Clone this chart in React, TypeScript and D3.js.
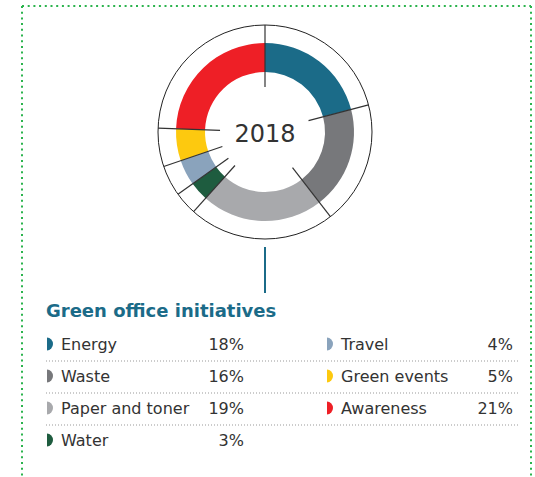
import * as d3 from "d3";

// data
const categories = ["Energy", "Waste", "Paper and toner", "Water", "Travel", "Green events", "Awareness"];
const shares = [18, 16, 19, 3, 4, 5, 21];
const colors = ["#1b6b88", "#77787b", "#a8a9ac", "#1e5c3f", "#8aa3bc", "#fdc90f", "#ee1f26"];
const leftItems = [0, 1, 2, 3];
const rightItems = [4, 5, 6];
const yearLabel = "2018";
const title = "Green office initiatives";

const W = 535;
const H = 477;
const cx = 265;
const cy = 132;

const App = () => {
  const pie = d3
    .pie<number>()
    .sort(null)
    .value((d) => d)
    .startAngle(0)
    .endAngle(2 * Math.PI);
  const arcs = pie(shares);
  const arc = d3.arc<d3.PieArcDatum<number>>().innerRadius(60).outerRadius(89);

  // radial separators at every slice boundary
  const rLine = d3.scaleLinear().domain([0, 1]).range([45, 107]);
  const pt = (a: number, r: number) => [cx + r * Math.sin(a), cy - r * Math.cos(a)];

  // legend rows
  const rowY = d3.scaleLinear().domain([0, 1]).range([350, 382]);
  const sepY = [0, 1, 2].map((i) => rowY(i) + 11);

  const font = "'DejaVu Sans', sans-serif";

  const legendRow = (idx: number, row: number, x0: number, xv: number) => (
    <g key={categories[idx]}>
      <path
        d={`M${x0},${rowY(row) - 12.5} A6,6.5 0 0 1 ${x0},${rowY(row) + 0.5} Z`}
        fill={colors[idx]}
      />
      <text x={x0 + 14} y={rowY(row)} fontSize={16} fill="#333" fontFamily={font}>
        {categories[idx]}
      </text>
      <text x={xv} y={rowY(row)} fontSize={16} fill="#333" fontFamily={font} textAnchor="end">
        {shares[idx]}%
      </text>
    </g>
  );

  return (
    <svg
      width={W}
      height={H}
      viewBox={`0 0 ${W} ${H}`}
      style={{ position: "absolute", left: 0, top: 0, background: "#fff" }}
    >
      {/* dotted green frame */}
      <g stroke="#2bb34d" strokeWidth={2} strokeDasharray="2 3.7" fill="none">
        <line x1={22} y1={6} x2={531} y2={6} />
        <line x1={22} y1={6} x2={22} y2={H} />
        <line x1={531} y1={6} x2={531} y2={H} />
      </g>

      <circle cx={cx} cy={cy} r={107} fill="none" stroke="#222" strokeWidth={1} />
      <g transform={`translate(${cx},${cy})`}>
        {arcs.map((a, i) => (
          <path key={i} d={arc(a) || ""} fill={colors[i]} />
        ))}
      </g>
      {arcs.map((a, i) => {
        const [x1, y1] = pt(a.startAngle, rLine(0));
        const [x2, y2] = pt(a.startAngle, rLine(1));
        return <line key={i} x1={x1} y1={y1} x2={x2} y2={y2} stroke="#333" strokeWidth={1.2} />;
      })}
      <text x={cx} y={cy + 10} textAnchor="middle" fontSize={24} fill="#333" fontFamily={font}>
        {yearLabel}
      </text>

      <line x1={cx} y1={247} x2={cx} y2={293} stroke="#1b6b88" strokeWidth={2} />

      <text x={46} y={317} fontSize={18} fontWeight="bold" fill="#1b6b88" fontFamily={font}>
        {title}
      </text>

      {sepY.map((y, i) => (
        <line key={i} x1={46} y1={y} x2={518} y2={y} stroke="#999" strokeWidth={1} strokeDasharray="1 2" />
      ))}

      {leftItems.map((idx, row) => legendRow(idx, row, 47, 244))}
      {rightItems.map((idx, row) => legendRow(idx, row, 327, 513))}
    </svg>
  );
};

export default App;
